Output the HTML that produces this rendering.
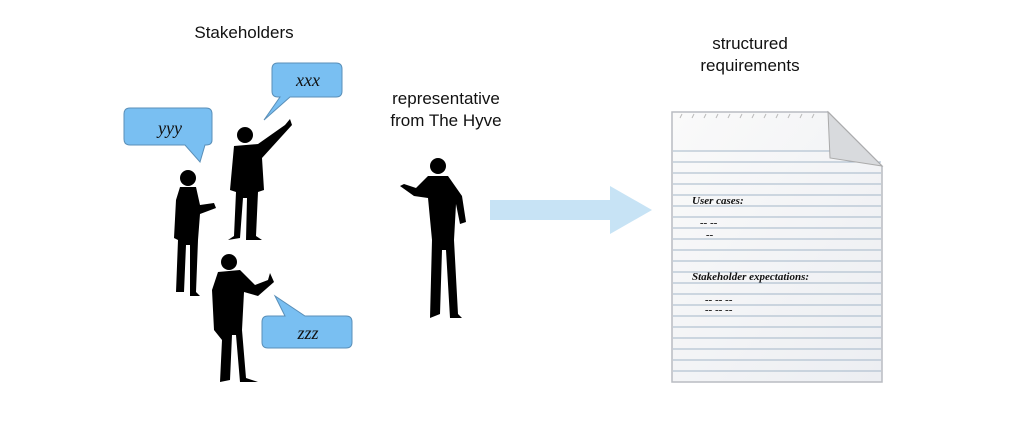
<!DOCTYPE html>
<html><head><style>
body{margin:0;width:1024px;height:438px;background:#fff;overflow:hidden;position:relative;font-family:"Liberation Sans",sans-serif;}
.t{position:absolute;font-size:17px;color:#111;text-align:center;line-height:22px;}
</style></head><body>
<div class="t" style="left:164px;top:22px;width:160px">Stakeholders</div>
<div class="t" style="left:356px;top:88px;width:180px">representative<br>from The Hyve</div>
<div class="t" style="left:660px;top:33px;width:180px">structured<br>requirements</div>
<svg width="1024" height="438" style="position:absolute;left:0;top:0">
<defs>
<linearGradient id="pg" x1="0" y1="0" x2="1" y2="1"><stop offset="0" stop-color="#fafafa"/><stop offset="1" stop-color="#eceef2"/></linearGradient>
</defs>
<g fill="#79bff2" stroke="#5a8fb8" stroke-width="1">
<path d="M130 108 H206 Q212 108 212 114 V140 Q212 145 206 145 H205 L200 162 L185 145 H130 Q124 145 124 139 V114 Q124 108 130 108Z"/>
<path d="M278 63 H336 Q342 63 342 69 V91 Q342 97 336 97 H290 L264 120 L280 97 H278 Q272 97 272 91 V69 Q272 63 278 63Z"/>
<path d="M268 316 H285 L275 296 L305 316 H346 Q352 316 352 322 V342 Q352 348 346 348 H268 Q262 348 262 342 V322 Q262 316 268 316Z"/>
</g>
<g font-family="Liberation Serif,serif" font-style="italic" font-size="18" fill="#111" text-anchor="middle">
<text x="170" y="134">yyy</text><text x="308" y="86">xxx</text><text x="308" y="339">zzz</text>
</g>
<g fill="#000">
<circle cx="245" cy="135" r="8"/>
<path d="M234 146 L258 144 L285 125 L290 119 L292 125 L262 158 L264 190 L258 192 L256 236 L262 240 L246 240 L247 198 L243 198 L240 238 L228 240 L234 236 L236 192 L230 190 Z"/>
<circle cx="188" cy="178" r="8"/>
<path d="M180 187 L196 187 L200 205 L214 203 L216 208 L200 214 L198 240 L196 292 L200 296 L190 296 L190 245 L186 245 L184 292 L176 292 L178 240 L174 238 L176 200 Z"/>
<circle cx="229" cy="262" r="8"/>
<path d="M218 272 L240 270 L255 285 L268 280 L270 273 L274 282 L258 296 L244 292 L242 330 L246 378 L258 382 L240 382 L236 335 L232 335 L230 380 L220 382 L222 340 L214 330 L212 290 Z"/>
<circle cx="438" cy="166" r="8"/>
<path d="M428 176 L448 176 L462 196 L466 222 L460 224 L456 204 L454 240 L458 314 L462 318 L450 318 L446 250 L442 250 L440 314 L430 318 L432 240 L428 198 L414 196 L400 186 L404 184 L416 188 L426 178 Z"/>
</g>
<path d="M490 200 H610 V186 L652 210 L610 234 V220 H490 Z" fill="#c7e3f5"/>
<path d="M672 112 H828 L882 166 V382 H672 Z" fill="url(#pg)" stroke="#b9bcc2" stroke-width="1.5"/>
<g stroke="#a3b6c8" stroke-width="1">
<line x1="673" y1="151" x2="832" y2="151"/><line x1="673" y1="162" x2="881" y2="162"/>
<line x1="673" y1="173" x2="881" y2="173"/><line x1="673" y1="184" x2="881" y2="184"/>
<line x1="673" y1="195" x2="881" y2="195"/><line x1="673" y1="206" x2="881" y2="206"/>
<line x1="673" y1="217" x2="881" y2="217"/><line x1="673" y1="228" x2="881" y2="228"/>
<line x1="673" y1="239" x2="881" y2="239"/><line x1="673" y1="250" x2="881" y2="250"/>
<line x1="673" y1="261" x2="881" y2="261"/><line x1="673" y1="272" x2="881" y2="272"/>
<line x1="673" y1="283" x2="881" y2="283"/><line x1="673" y1="294" x2="881" y2="294"/>
<line x1="673" y1="305" x2="881" y2="305"/><line x1="673" y1="316" x2="881" y2="316"/>
<line x1="673" y1="327" x2="881" y2="327"/><line x1="673" y1="338" x2="881" y2="338"/>
<line x1="673" y1="349" x2="881" y2="349"/><line x1="673" y1="360" x2="881" y2="360"/>
<line x1="673" y1="371" x2="881" y2="371"/>
</g>
<g stroke="#bbb" stroke-width="1" fill="none">
<path d="M680 118 l2 -4 M692 118 l2 -4 M704 118 l2 -4 M716 118 l2 -4 M728 118 l2 -4 M740 118 l2 -4 M752 118 l2 -4 M764 118 l2 -4 M776 118 l2 -4 M788 118 l2 -4 M800 118 l2 -4 M812 118 l2 -4"/>
</g>
<path d="M828 112 L830 158 L882 166 Z" fill="#d8dadd" stroke="#aaa"/>
<g font-family="Liberation Serif,serif" font-style="italic" font-size="11" fill="#111" font-weight="bold">
<text x="692" y="204">User  cases:</text>
<text x="700" y="226">-- --</text><text x="706" y="238">--</text>
<text x="692" y="280">Stakeholder  expectations:</text>
<text x="705" y="303">-- -- --</text><text x="705" y="313">-- -- --</text>
</g>
</svg>
</body></html>
